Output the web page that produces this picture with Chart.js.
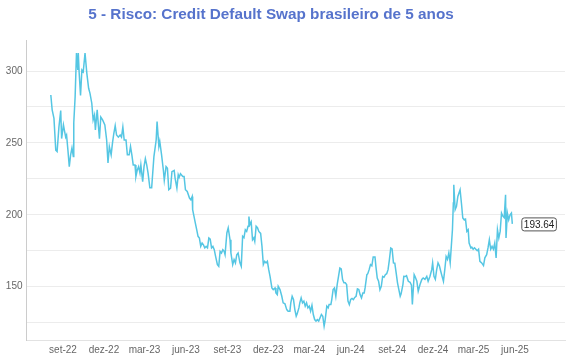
<!DOCTYPE html>
<html><head><meta charset="utf-8">
<script src="https://cdn.jsdelivr.net/npm/chart.js@4.4.1/dist/chart.umd.min.js"></script>
<style>html,body{margin:0;padding:0;background:#fff;}canvas{display:block;}</style>
</head><body>
<canvas id="c" width="570" height="360"></canvas>
<script>
const titleText = '5 - Risco: Credit Default Swap brasileiro de 5 anos';

const dates = [
'2022-08-05','2022-08-08','2022-08-12','2022-08-16','2022-08-19','2022-08-23','2022-08-27','2022-08-29',
'2022-09-02','2022-09-04','2022-09-07','2022-09-09','2022-09-12','2022-09-15','2022-09-18','2022-09-21','2022-09-24','2022-09-25','2022-09-28',
'2022-10-01','2022-10-04','2022-10-05','2022-10-07','2022-10-10','2022-10-13','2022-10-16','2022-10-20','2022-10-24','2022-10-28','2022-10-31',
'2022-11-04','2022-11-07','2022-11-10','2022-11-12','2022-11-16','2022-11-18','2022-11-21','2022-11-24','2022-11-28',
'2022-12-03','2022-12-07','2022-12-10','2022-12-13','2022-12-17','2022-12-20','2022-12-23','2022-12-26','2022-12-29',
'2023-01-02','2023-01-06','2023-01-09','2023-01-12','2023-01-15','2023-01-19','2023-01-22','2023-01-26','2023-01-29',
'2023-02-01','2023-02-04','2023-02-08','2023-02-10','2023-02-13','2023-02-16','2023-02-19','2023-02-21','2023-02-25','2023-02-28',
'2023-03-03','2023-03-06','2023-03-09','2023-03-13','2023-03-17','2023-03-22','2023-03-27','2023-03-29',
'2023-04-02','2023-04-04','2023-04-08','2023-04-12','2023-04-14','2023-04-18','2023-04-21','2023-04-24','2023-04-28',
'2023-05-01','2023-05-06','2023-05-08','2023-05-12','2023-05-15','2023-05-17','2023-05-20','2023-05-25','2023-05-28','2023-05-31',
'2023-06-04','2023-06-09','2023-06-12','2023-06-15','2023-06-16','2023-06-19','2023-06-22','2023-06-25','2023-06-28',
'2023-07-01','2023-07-04','2023-07-07','2023-07-10','2023-07-13','2023-07-16','2023-07-19','2023-07-22','2023-07-25','2023-07-28','2023-07-31',
'2023-08-03','2023-08-06','2023-08-10','2023-08-13','2023-08-16','2023-08-19','2023-08-22','2023-08-25','2023-08-27','2023-08-31',
'2023-09-03','2023-09-07','2023-09-09','2023-09-13','2023-09-16','2023-09-19','2023-09-22','2023-09-25','2023-09-29',
'2023-10-02','2023-10-05','2023-10-08','2023-10-11','2023-10-14','2023-10-17','2023-10-19','2023-10-21','2023-10-24','2023-10-27','2023-10-30',
'2023-11-01','2023-11-04','2023-11-07','2023-11-10','2023-11-14','2023-11-17','2023-11-20','2023-11-23','2023-11-26','2023-11-29',
'2023-12-02','2023-12-05','2023-12-09','2023-12-12','2023-12-16','2023-12-18','2023-12-21','2023-12-23','2023-12-27','2023-12-31',
'2024-01-03','2024-01-07','2024-01-11','2024-01-14','2024-01-18','2024-01-20','2024-01-23','2024-01-26','2024-01-29',
'2024-02-01','2024-02-03','2024-02-07','2024-02-09','2024-02-12','2024-02-15','2024-02-18','2024-02-21','2024-02-24','2024-02-27',
'2024-03-01','2024-03-04','2024-03-07','2024-03-10','2024-03-13','2024-03-16','2024-03-19','2024-03-22','2024-03-25','2024-03-28','2024-03-31',
'2024-04-03','2024-04-05','2024-04-09','2024-04-12','2024-04-14','2024-04-18','2024-04-20','2024-04-23','2024-04-26','2024-04-29',
'2024-05-02','2024-05-05','2024-05-08','2024-05-11','2024-05-14','2024-05-17','2024-05-20','2024-05-23','2024-05-26','2024-05-29',
'2024-06-01','2024-06-04','2024-06-07','2024-06-10','2024-06-13','2024-06-16','2024-06-19','2024-06-22','2024-06-25','2024-06-28',
'2024-07-01','2024-07-03','2024-07-07','2024-07-09','2024-07-12','2024-07-15','2024-07-18','2024-07-21','2024-07-25','2024-07-27','2024-07-30',
'2024-08-02','2024-08-05','2024-08-08','2024-08-11','2024-08-14','2024-08-17','2024-08-20','2024-08-23','2024-08-26','2024-08-29',
'2024-09-01','2024-09-04','2024-09-07','2024-09-10','2024-09-13','2024-09-16','2024-09-19','2024-09-21','2024-09-25','2024-09-27','2024-09-30',
'2024-10-03','2024-10-07','2024-10-11','2024-10-14','2024-10-16','2024-10-20','2024-10-22','2024-10-26','2024-10-29',
'2024-11-02','2024-11-06','2024-11-09','2024-11-13','2024-11-17','2024-11-20','2024-11-24','2024-11-28','2024-11-30',
'2024-12-03','2024-12-06','2024-12-09','2024-12-12','2024-12-15','2024-12-18','2024-12-21','2024-12-24','2024-12-27','2024-12-30',
'2025-01-02','2025-01-05','2025-01-08','2025-01-10','2025-01-13','2025-01-15','2025-01-16','2025-01-19','2025-01-22','2025-01-25','2025-01-30',
'2025-02-02','2025-02-05','2025-02-08','2025-02-11','2025-02-14','2025-02-17','2025-02-19','2025-02-23','2025-02-25','2025-02-28',
'2025-03-03','2025-03-06','2025-03-09','2025-03-12','2025-03-15','2025-03-19','2025-03-23','2025-03-26','2025-03-30',
'2025-04-02','2025-04-05','2025-04-08','2025-04-11','2025-04-14','2025-04-17','2025-04-20','2025-04-23','2025-04-26','2025-04-29',
'2025-05-02','2025-05-05','2025-05-08','2025-05-11','2025-05-12','2025-05-15','2025-05-18','2025-05-21','2025-05-24','2025-05-26'
];

const cds = [
283.3,273,267,245,244,261,272.5,253,
262.5,259,254,255.5,245,233.5,241.7,246.5,240.5,264,282,
312.5,300.7,312.5,298.6,283,300.7,299.5,312.5,298.4,288,284.5,
277.6,266,269.4,259,273,264.8,253,268,266,
262.5,252,236,247.5,241.7,250,256.7,262,255.5,
254,255.5,254,261,252,252,241.7,241.7,247.5,
241.7,234.7,234.7,226.6,231,233.5,229,234.7,223,233.5,
239,234.7,229,218.8,218.8,240.5,252,264.8,
247.5,251,241.7,231,224,233.5,232.4,217.4,218.5,
230,230.8,225.5,218.5,227.8,226,228.5,226.6,226.6,217.4,
216.2,211.6,210.4,212.7,203.5,198.8,194.2,189.6,185,
183.8,178,180.3,179,176.9,178,177,183.8,183,177,178,
175.7,171,165.3,164.1,174.5,173.4,175.7,174.5,172.2,187.3,
190.8,182.6,173.4,165.3,168.8,166.5,172.2,173.4,166.5,
164.1,185,184,189.6,188.4,192,198.8,193,195,182.6,184,
181.5,192,191,188.4,187,178,165.3,167.6,166.5,167.6,
161.8,157,149.1,147.9,149,145.6,144.4,150.2,147.9,143.3,
138.7,138,134,132.9,132.9,138.7,143.3,141,134,
129.4,131,135.2,138.7,142.2,138.7,139.9,136.4,138.7,135.2,
136.4,132.9,137,130.6,127.1,126,127,126,128.3,130.6,129.4,
122.5,126,136.4,135.2,137.5,137.5,141,147.9,149,143.3,
151.4,157.1,162.9,162.3,154.9,152.6,152.6,151.4,139.9,137.5,
141,141.8,141,142.5,143.3,148.4,148,144.4,142.1,145.6,
145.6,149.1,158.3,159,161.8,165.3,164.5,170.6,170.6,164.1,156,
153.7,147.9,150.2,157.1,156.5,158.3,159,161.8,168.8,176.9,
176.3,166.5,166.3,159.5,152.6,147.9,143.3,145,151.4,157.1,157,
157.6,153.7,153,151,137.5,158.3,157,153.7,146.8,
151.4,155,156,155,157.1,153.7,157.1,161.8,166.5,
157.1,155,161.8,166.5,164.5,160.7,157.1,153.7,161.8,171,
169,173.4,166.5,175.7,189.6,208.1,220.8,203.5,205.8,212.7,217.4,
208,197.7,196.5,197,188.4,189.6,180.3,176.9,177.5,176,
177,176,175,176,167.6,166.5,164.6,170,172.2,
176.9,182.6,176,178,176,180.3,170,189.6,183.8,188.4,
201.2,199,198,213.9,183.8,201.2,196.5,200,201.2,193.64
];

const xTickDates = ['2022-09-01','2022-12-01','2023-03-01','2023-06-01','2023-09-01','2023-12-01','2024-03-01','2024-06-01','2024-09-01','2024-12-01','2025-03-01','2025-06-01'];
const xTickLabels = ['set-22','dez-22','mar-23','jun-23','set-23','dez-23','mar-24','jun-24','set-24','dez-24','mar-25','jun-25'];
const yTickValues = [125,150,175,200,225,250,275,300];
const yLabelValues = [150,200,250,300];
const xRange = ['2022-06-12','2025-09-20'];
const yRange = [112.5, 321.6];

const FONT = '"Liberation Sans", Arial, Helvetica, sans-serif';
Chart.defaults.font.family = FONT;

const toDay = s => { const p = s.split('-').map(Number); return Date.UTC(p[0], p[1]-1, p[2]) / 86400000; };

const titlePlugin = {
  id: 'customTitle',
  afterDraw(chart) {
    const ctx = chart.ctx;
    ctx.save();
    ctx.font = 'bold 15.3px ' + FONT;
    ctx.fillStyle = '#5673cc';
    ctx.textAlign = 'center';
    ctx.textBaseline = 'alphabetic';
    ctx.fillText(titleText, 271, 19);
    ctx.restore();
  }
};

const lastLabelPlugin = {
  id: 'lastLabel',
  afterDatasetsDraw(chart) {
    const meta = chart.getDatasetMeta(0);
    const pt = meta.data[meta.data.length - 1];
    if (!pt) return;
    const ctx = chart.ctx;
    const txt = cds[cds.length - 1].toFixed(2);
    ctx.save();
    ctx.font = '10px ' + FONT;
    const w = ctx.measureText(txt).width + 4;
    const h = 13;
    const x = pt.x + 9, y = pt.y - h / 2;
    ctx.beginPath();
    if (ctx.roundRect) ctx.roundRect(x + 0.5, y + 0.5, w, h, 2.5); else ctx.rect(x + 0.5, y + 0.5, w, h);
    ctx.fillStyle = '#ffffff';
    ctx.fill();
    ctx.lineWidth = 1;
    ctx.strokeStyle = '#555';
    ctx.stroke();
    ctx.fillStyle = '#222';
    ctx.textAlign = 'center';
    ctx.textBaseline = 'middle';
    ctx.fillText(txt, x + 0.5 + w / 2, y + 0.5 + h / 2 + 0.5);
    ctx.restore();
  }
};

new Chart(document.getElementById('c'), {
  type: 'line',
  data: {
    datasets: [{
      data: dates.map((d, i) => ({ x: toDay(d), y: cds[i] })),
      borderColor: '#55c6e3',
      borderWidth: 1.5,
      pointRadius: 0,
      tension: 0,
      fill: false
    }]
  },
  options: {
    responsive: false,
    animation: false,
    devicePixelRatio: 1,
    layout: { padding: { top: 40, right: 5, bottom: 0, left: 0 } },
    plugins: { legend: { display: false }, title: { display: false }, tooltip: { enabled: false } },
    scales: {
      x: {
        type: 'linear',
        min: toDay(xRange[0]),
        max: toDay(xRange[1]),
        afterBuildTicks: s => { s.ticks = xTickDates.map(d => ({ value: toDay(d) })); },
        afterFit: s => { s.height = 19.5; },
        ticks: { autoSkip: false, maxRotation: 0, padding: 4, color: '#666', font: { size: 10 },
                 callback: (v, i) => xTickLabels[i] },
        grid: { display: false, drawTicks: false },
        border: { display: true, color: '#e2e2e2' }
      },
      y: {
        min: yRange[0],
        max: yRange[1],
        afterBuildTicks: s => { s.ticks = yTickValues.map(v => ({ value: v })); },
        afterFit: s => { s.width = 26.5; },
        ticks: { padding: 4, color: '#666', font: { size: 10 },
                 callback: v => yLabelValues.includes(v) ? String(v) : '' },
        grid: { color: '#ececec', drawTicks: false },
        border: { display: true, color: '#cccccc' }
      }
    }
  },
  plugins: [titlePlugin, lastLabelPlugin]
});
</script>
</body></html>
